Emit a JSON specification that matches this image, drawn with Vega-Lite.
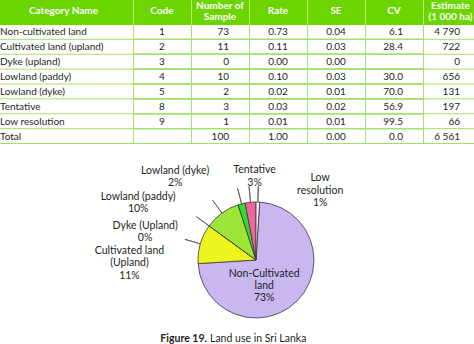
{
  "$schema": "https://vega.github.io/schema/vega-lite/v6.json",
  "padding": 0,
  "spacing": 0,
  "config": {"view": {"stroke": null}, "font": "Lato", "text": {"color": "#231f20"}},
  "datasets": {
    "table": [
      {"Category Name": "Non-cultivated land", "Code": "1", "Number of Sample": "73", "Rate": "0.73", "SE": "0.04", "CV": "6.1", "Estimate": "4 790"},
      {"Category Name": "Cultivated land (upland)", "Code": "2", "Number of Sample": "11", "Rate": "0.11", "SE": "0.03", "CV": "28.4", "Estimate": "722"},
      {"Category Name": "Dyke (upland)", "Code": "3", "Number of Sample": "0", "Rate": "0.00", "SE": "0.00", "CV": "", "Estimate": "0"},
      {"Category Name": "Lowland (paddy)", "Code": "4", "Number of Sample": "10", "Rate": "0.10", "SE": "0.03", "CV": "30.0", "Estimate": "656"},
      {"Category Name": "Lowland (dyke)", "Code": "5", "Number of Sample": "2", "Rate": "0.02", "SE": "0.01", "CV": "70.0", "Estimate": "131"},
      {"Category Name": "Tentative", "Code": "8", "Number of Sample": "3", "Rate": "0.03", "SE": "0.02", "CV": "56.9", "Estimate": "197"},
      {"Category Name": "Low resolution", "Code": "9", "Number of Sample": "1", "Rate": "0.01", "SE": "0.01", "CV": "99.5", "Estimate": "66"},
      {"Category Name": "Total", "Code": "", "Number of Sample": "100", "Rate": "1.00", "SE": "0.00", "CV": "0.0", "Estimate": "6 561"}
    ],
    "headers": [
      {"column": "Category Name", "title": "Category Name"},
      {"column": "Code", "title": "Code"},
      {"column": "Number of Sample", "title": "Number of\nSample"},
      {"column": "Rate", "title": "Rate"},
      {"column": "SE", "title": "SE"},
      {"column": "CV", "title": "CV"},
      {"column": "Estimate", "title": "Estimate\n(1 000 ha)"}
    ],
    "pie": [
      {"category": "Non-cultivated land", "code": 1, "estimate": 4790, "label": "Non-Cultivated\nland\n73%"},
      {"category": "Cultivated land (upland)", "code": 2, "estimate": 722, "label": "Cultivated land\n(Upland)\n11%"},
      {"category": "Dyke (upland)", "code": 3, "estimate": 0, "label": "Dyke (Upland)\n0%"},
      {"category": "Lowland (paddy)", "code": 4, "estimate": 656, "label": "Lowland (paddy)\n10%"},
      {"category": "Lowland (dyke)", "code": 5, "estimate": 131, "label": "Lowland (dyke)\n2%"},
      {"category": "Tentative", "code": 8, "estimate": 197, "label": "Tentative\n3%"},
      {"category": "Low resolution", "code": 9, "estimate": 66, "label": "Low\nresolution\n1%"}
    ]
  },
  "vconcat": [
    {
      "hconcat": [
        {
          "width": 133, "height": 25,
          "view": {"fill": "#6cd500", "stroke": null},
          "data": {"name": "headers"},
          "transform": [{"filter": "datum.column === 'Category Name'"}],
          "mark": {"type": "text", "color": "white", "fontWeight": "bold", "fontSize": 10, "dx": -3, "dy": -2},
          "encoding": {"text": {"field": "title", "type": "nominal"}}
        },
        {
          "width": 290, "height": 25,
          "view": {"fill": "#6cd500", "stroke": null},
          "data": {"name": "headers"},
          "transform": [{"filter": "indexof(['Code','Number of Sample','Rate','SE','CV'], datum.column) >= 0"}],
          "layer": [
            {
              "mark": {"type": "rule", "color": "#b5ef7a", "strokeWidth": 1, "xOffset": 0.5, "clip": true},
              "encoding": {"x": {"field": "column", "type": "nominal", "bandPosition": 0, "axis": null,
                "scale": {"type": "band", "domain": ["Code", "Number of Sample", "Rate", "SE", "CV"], "paddingInner": 0, "paddingOuter": 0}}}
            },
            {
              "transform": [{"filter": "datum.column !== 'Number of Sample'"}],
              "mark": {"type": "text", "color": "white", "fontWeight": "bold", "fontSize": 10, "dy": -2},
              "encoding": {
                "x": {"field": "column", "type": "nominal", "axis": null,
                  "scale": {"type": "band", "domain": ["Code", "Number of Sample", "Rate", "SE", "CV"], "paddingInner": 0, "paddingOuter": 0}},
                "text": {"field": "title", "type": "nominal"}
              }
            },
            {
              "transform": [{"filter": "datum.column === 'Number of Sample'"}],
              "mark": {"type": "text", "color": "white", "fontWeight": "bold", "fontSize": 10, "dy": -6.5, "lineBreak": "\n", "lineHeight": 11},
              "encoding": {
                "x": {"field": "column", "type": "nominal", "axis": null,
                  "scale": {"type": "band", "domain": ["Code", "Number of Sample", "Rate", "SE", "CV"], "paddingInner": 0, "paddingOuter": 0}},
                "text": {"field": "title", "type": "nominal"}
              }
            }
          ]
        },
        {
          "width": 51, "height": 25,
          "view": {"fill": "#6cd500", "stroke": null},
          "data": {"name": "headers"},
          "transform": [{"filter": "datum.column === 'Estimate'"}],
          "layer": [
            {
              "mark": {"type": "rule", "color": "#b5ef7a", "strokeWidth": 1, "xOffset": 0.5, "clip": true},
              "encoding": {"x": {"field": "column", "type": "nominal", "bandPosition": 0, "axis": null,
                "scale": {"type": "band", "paddingInner": 0, "paddingOuter": 0}}}
            },
            {
              "mark": {"type": "text", "color": "white", "fontWeight": "bold", "fontSize": 10, "dx": 2, "dy": -6.5, "lineBreak": "\n", "lineHeight": 11, "clip": true},
              "encoding": {
                "x": {"field": "column", "type": "nominal", "axis": null,
                  "scale": {"type": "band", "paddingInner": 0, "paddingOuter": 0}},
                "text": {"field": "title", "type": "nominal"}
              }
            }
          ]
        }
      ],
      "spacing": 0
    },
    {
      "hconcat": [
        {
          "width": 133, "height": 119,
          "data": {"name": "table"},
          "transform": [{"fold": ["Category Name"], "as": ["column", "value"]}],
          "layer": [
            {
              "mark": {"type": "rule", "color": "#a3e26a", "strokeWidth": 1, "yOffset": -0.5, "clip": true},
              "encoding": {"y": {"field": "Category Name", "type": "nominal", "bandPosition": 1, "axis": null,
                "scale": {"type": "band", "domain": ["Non-cultivated land", "Cultivated land (upland)", "Dyke (upland)", "Lowland (paddy)", "Lowland (dyke)", "Tentative", "Low resolution", "Total"], "paddingInner": 0, "paddingOuter": 0}}}
            },
            {
              "mark": {"type": "text", "align": "left", "fontSize": 10},
              "encoding": {
                "x": {"field": "column", "type": "nominal", "bandPosition": 0, "axis": null, "scale": {"type": "band", "paddingInner": 0, "paddingOuter": 0}},
                "y": {"field": "Category Name", "type": "nominal", "axis": null,
                  "scale": {"type": "band", "domain": ["Non-cultivated land", "Cultivated land (upland)", "Dyke (upland)", "Lowland (paddy)", "Lowland (dyke)", "Tentative", "Low resolution", "Total"], "paddingInner": 0, "paddingOuter": 0}},
                "text": {"field": "value", "type": "nominal"}
              }
            }
          ]
        },
        {
          "width": 290, "height": 119,
          "data": {"name": "table"},
          "transform": [{"fold": ["Code", "Number of Sample", "Rate", "SE", "CV"], "as": ["column", "value"]}],
          "layer": [
            {
              "mark": {"type": "rule", "color": "#a3e26a", "strokeWidth": 1, "yOffset": -0.5, "clip": true},
              "encoding": {"y": {"field": "Category Name", "type": "nominal", "bandPosition": 1, "axis": null,
                "scale": {"type": "band", "domain": ["Non-cultivated land", "Cultivated land (upland)", "Dyke (upland)", "Lowland (paddy)", "Lowland (dyke)", "Tentative", "Low resolution", "Total"], "paddingInner": 0, "paddingOuter": 0}}}
            },
            {
              "mark": {"type": "rule", "color": "#a3e26a", "strokeWidth": 1, "xOffset": 0.5, "clip": true},
              "encoding": {"x": {"field": "column", "type": "nominal", "bandPosition": 0, "axis": null,
                "scale": {"type": "band", "domain": ["Code", "Number of Sample", "Rate", "SE", "CV"], "paddingInner": 0, "paddingOuter": 0}}}
            },
            {
              "transform": [{"filter": "indexof(['Code','Rate','SE'], datum.column) >= 0"}],
              "mark": {"type": "text", "fontSize": 10},
              "encoding": {
                "x": {"field": "column", "type": "nominal", "axis": null,
                  "scale": {"type": "band", "domain": ["Code", "Number of Sample", "Rate", "SE", "CV"], "paddingInner": 0, "paddingOuter": 0}},
                "y": {"field": "Category Name", "type": "nominal", "axis": null,
                  "scale": {"type": "band", "domain": ["Non-cultivated land", "Cultivated land (upland)", "Dyke (upland)", "Lowland (paddy)", "Lowland (dyke)", "Tentative", "Low resolution", "Total"], "paddingInner": 0, "paddingOuter": 0}},
                "text": {"field": "value", "type": "nominal"}
              }
            },
            {
              "transform": [{"filter": "indexof(['Number of Sample','CV'], datum.column) >= 0"}],
              "mark": {"type": "text", "fontSize": 10, "align": "right", "dx": 9},
              "encoding": {
                "x": {"field": "column", "type": "nominal", "axis": null,
                  "scale": {"type": "band", "domain": ["Code", "Number of Sample", "Rate", "SE", "CV"], "paddingInner": 0, "paddingOuter": 0}},
                "y": {"field": "Category Name", "type": "nominal", "axis": null,
                  "scale": {"type": "band", "domain": ["Non-cultivated land", "Cultivated land (upland)", "Dyke (upland)", "Lowland (paddy)", "Lowland (dyke)", "Tentative", "Low resolution", "Total"], "paddingInner": 0, "paddingOuter": 0}},
                "text": {"field": "value", "type": "nominal"}
              }
            }
          ]
        },
        {
          "width": 51, "height": 119,
          "data": {"name": "table"},
          "transform": [{"fold": ["Estimate"], "as": ["column", "value"]}],
          "layer": [
            {
              "mark": {"type": "rule", "color": "#a3e26a", "strokeWidth": 1, "yOffset": -0.5, "clip": true},
              "encoding": {"y": {"field": "Category Name", "type": "nominal", "bandPosition": 1, "axis": null,
                "scale": {"type": "band", "domain": ["Non-cultivated land", "Cultivated land (upland)", "Dyke (upland)", "Lowland (paddy)", "Lowland (dyke)", "Tentative", "Low resolution", "Total"], "paddingInner": 0, "paddingOuter": 0}}}
            },
            {
              "mark": {"type": "rule", "color": "#a3e26a", "strokeWidth": 1, "xOffset": 0.5, "clip": true},
              "encoding": {"x": {"field": "column", "type": "nominal", "bandPosition": 0, "axis": null,
                "scale": {"type": "band", "paddingInner": 0, "paddingOuter": 0}}}
            },
            {
              "mark": {"type": "text", "fontSize": 10, "align": "right", "dx": 11.5},
              "encoding": {
                "x": {"field": "column", "type": "nominal", "axis": null, "scale": {"type": "band", "paddingInner": 0, "paddingOuter": 0}},
                "y": {"field": "Category Name", "type": "nominal", "axis": null,
                  "scale": {"type": "band", "domain": ["Non-cultivated land", "Cultivated land (upland)", "Dyke (upland)", "Lowland (paddy)", "Lowland (dyke)", "Tentative", "Low resolution", "Total"], "paddingInner": 0, "paddingOuter": 0}},
                "text": {"field": "value", "type": "nominal"}
              }
            }
          ]
        }
      ],
      "spacing": 0
    },
    {
      "width": 474, "height": 200,
      "data": {"name": "pie"},
      "layer": [
        {
          "mark": {"type": "arc", "outerRadius": 58, "stroke": "#3b3540", "strokeWidth": 0.8, "xOffset": 19, "yOffset": 16},
          "encoding": {
            "theta": {"field": "estimate", "type": "quantitative", "stack": true, "scale": {"range": [0.0632, 6.3464]}},
            "order": {"field": "code", "type": "quantitative"},
            "color": {"field": "category", "type": "nominal", "legend": null,
              "scale": {"domain": ["Non-cultivated land", "Cultivated land (upland)", "Dyke (upland)", "Lowland (paddy)", "Lowland (dyke)", "Tentative", "Low resolution"],
                "range": ["#c9b8f0", "#ecf51e", "#b8e84a", "#9be637", "#33d92e", "#f0659a", "#f4f2f6"]}}
          }
        },
        {
          "mark": {"type": "arc", "innerRadius": 58, "outerRadius": 74, "padAngle": 3.1416, "filled": false, "color": "#555555", "strokeWidth": 0.8, "xOffset": 19, "yOffset": 16},
          "encoding": {
            "theta": {"field": "estimate", "type": "quantitative", "stack": true, "scale": {"range": [0.0632, 6.3464]}},
            "order": {"field": "code", "type": "quantitative"},
            "strokeOpacity": {"condition": {"test": "datum.code === 1", "value": 0}, "value": 1}
          }
        },
        {
          "mark": {"type": "text", "radius": 30, "xOffset": 19, "yOffset": 16, "dx": -13, "dy": -7, "fontSize": 10.5, "lineBreak": "\n", "lineHeight": 12},
          "encoding": {
            "theta": {"field": "estimate", "type": "quantitative", "stack": true, "scale": {"range": [0.0632, 6.3464]}},
            "order": {"field": "code", "type": "quantitative"},
            "text": {"condition": {"test": "datum.code === 1", "field": "label", "type": "nominal"}, "value": ""}
          }
        },
        {
          "mark": {"type": "text", "radius": 100, "xOffset": 19, "yOffset": 16, "dx": -30.5, "dy": 18.5, "fontSize": 10.5, "lineBreak": "\n", "lineHeight": 12.5},
          "encoding": {
            "theta": {"field": "estimate", "type": "quantitative", "stack": true, "scale": {"range": [0.0632, 6.3464]}},
            "order": {"field": "code", "type": "quantitative"},
            "text": {"condition": {"test": "datum.code === 2", "field": "label", "type": "nominal"}, "value": ""}
          }
        },
        {
          "mark": {"type": "text", "radius": 100, "xOffset": 19, "yOffset": 16, "dx": -30, "dy": 24.5, "fontSize": 10.5, "lineBreak": "\n", "lineHeight": 12},
          "encoding": {
            "theta": {"field": "estimate", "type": "quantitative", "stack": true, "scale": {"range": [0.0632, 6.3464]}},
            "order": {"field": "code", "type": "quantitative"},
            "text": {"condition": {"test": "datum.code === 3", "field": "label", "type": "nominal"}, "value": ""}
          }
        },
        {
          "mark": {"type": "text", "radius": 100, "xOffset": 19, "yOffset": 16, "dx": -59, "dy": 18, "fontSize": 10.5, "lineBreak": "\n", "lineHeight": 12},
          "encoding": {
            "theta": {"field": "estimate", "type": "quantitative", "stack": true, "scale": {"range": [0.0632, 6.3464]}},
            "order": {"field": "code", "type": "quantitative"},
            "text": {"condition": {"test": "datum.code === 4", "field": "label", "type": "nominal"}, "value": ""}
          }
        },
        {
          "mark": {"type": "text", "radius": 100, "xOffset": 19, "yOffset": 16, "dx": -56, "dy": 7.5, "fontSize": 10.5, "lineBreak": "\n", "lineHeight": 12},
          "encoding": {
            "theta": {"field": "estimate", "type": "quantitative", "stack": true, "scale": {"range": [0.0632, 6.3464]}},
            "order": {"field": "code", "type": "quantitative"},
            "text": {"condition": {"test": "datum.code === 5", "field": "label", "type": "nominal"}, "value": ""}
          }
        },
        {
          "mark": {"type": "text", "radius": 100, "xOffset": 19, "yOffset": 16, "dx": 8, "dy": 10, "fontSize": 10.5, "lineBreak": "\n", "lineHeight": 12.5},
          "encoding": {
            "theta": {"field": "estimate", "type": "quantitative", "stack": true, "scale": {"range": [0.0632, 6.3464]}},
            "order": {"field": "code", "type": "quantitative"},
            "text": {"condition": {"test": "datum.code === 8", "field": "label", "type": "nominal"}, "value": ""}
          }
        },
        {
          "mark": {"type": "text", "radius": 100, "xOffset": 19, "yOffset": 16, "dx": 61, "dy": 18, "fontSize": 10.5, "lineBreak": "\n", "lineHeight": 12.5},
          "encoding": {
            "theta": {"field": "estimate", "type": "quantitative", "stack": true, "scale": {"range": [0.0632, 6.3464]}},
            "order": {"field": "code", "type": "quantitative"},
            "text": {"condition": {"test": "datum.code === 9", "field": "label", "type": "nominal"}, "value": ""}
          }
        },
        {
          "data": {"values": [{"caption": "Figure 19."}]},
          "mark": {"type": "text", "fontWeight": "bold", "fontSize": 10.5, "align": "right", "dx": -30, "dy": 95, "color": "#231f20"},
          "encoding": {"text": {"field": "caption", "type": "nominal"}}
        },
        {
          "data": {"values": [{"caption": "Land use in Sri Lanka"}]},
          "mark": {"type": "text", "fontSize": 10.5, "align": "left", "dx": -27, "dy": 95, "color": "#231f20"},
          "encoding": {"text": {"field": "caption", "type": "nominal"}}
        }
      ]
    }
  ]
}
